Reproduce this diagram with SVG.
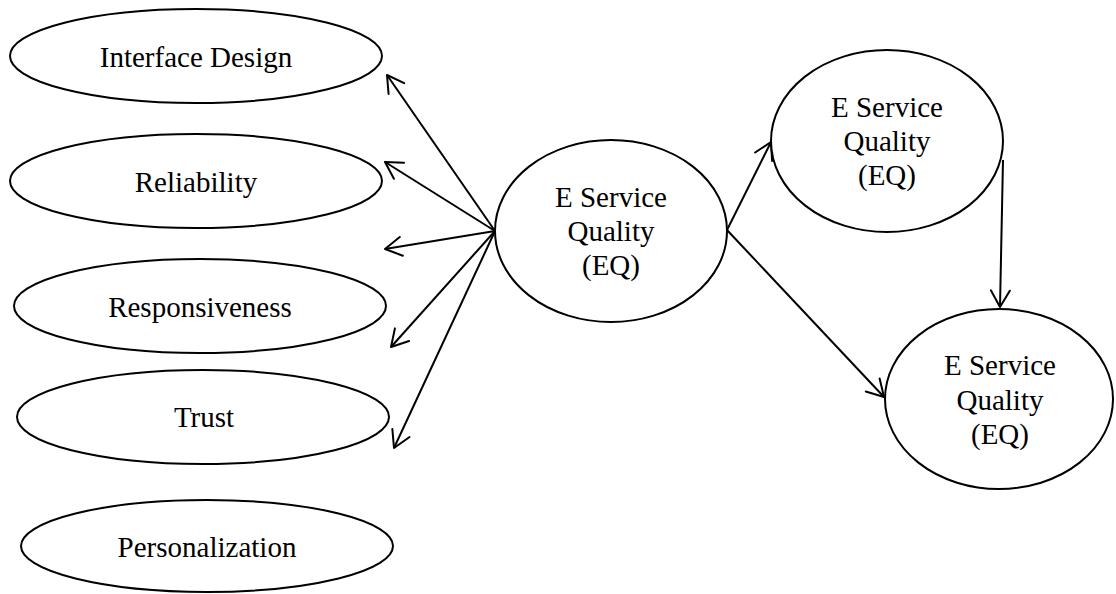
<svg xmlns="http://www.w3.org/2000/svg" width="1116" height="594" viewBox="0 0 1116 594">
  <style>
    .shape { fill: #ffffff; stroke: #000000; stroke-width: 2; }
    .label { font-family: "Liberation Serif", "Times New Roman", serif; font-size: 29px; fill: #000000; text-anchor: middle; }
    .link { fill: none; stroke: #000000; stroke-width: 2; marker-end: url(#head); }
  </style>
  <defs>
    <!-- open V-shaped arrowhead -->
    <marker id="head" markerUnits="userSpaceOnUse" markerWidth="40" markerHeight="40" refX="0" refY="0" orient="auto" viewBox="-20 -20 40 40" overflow="visible">
      <path d="M -16.5 -9.5 L 0 0 L -16.5 9.5" fill="none" stroke="#000000" stroke-width="2" stroke-linecap="round" stroke-linejoin="round"/>
    </marker>
  </defs>

  <rect x="0" y="0" width="1116" height="594" fill="#ffffff"/>

  <!-- connectors -->
  <g id="connectors">
    <line class="link" x1="495" y1="231" x2="387" y2="75"/>
    <line class="link" x1="495" y1="231" x2="385" y2="162"/>
    <line class="link" x1="495" y1="231" x2="385" y2="249"/>
    <line class="link" x1="495" y1="231" x2="391" y2="347"/>
    <line class="link" x1="495" y1="231" x2="394" y2="448"/>
    <line class="link" x1="727" y1="230" x2="771" y2="142"/>
    <line class="link" x1="727" y1="230" x2="884" y2="397"/>
    <line class="link" x1="1003" y1="160" x2="1000" y2="307"/>
  </g>

  <!-- left-hand dimensions -->
  <g id="interface-design">
    <ellipse class="shape" cx="196" cy="56" rx="186" ry="47"/>
    <text class="label" x="196" y="67">Interface Design</text>
  </g>
  <g id="reliability">
    <ellipse class="shape" cx="196" cy="181" rx="186" ry="47"/>
    <text class="label" x="196" y="192">Reliability</text>
  </g>
  <g id="responsiveness">
    <ellipse class="shape" cx="200" cy="306" rx="186" ry="47"/>
    <text class="label" x="200" y="317">Responsiveness</text>
  </g>
  <g id="trust">
    <ellipse class="shape" cx="203" cy="417" rx="186" ry="47"/>
    <text class="label" x="204" y="427">Trust</text>
  </g>
  <g id="personalization">
    <ellipse class="shape" cx="207" cy="546" rx="186" ry="46"/>
    <text class="label" x="207" y="557">Personalization</text>
  </g>

  <!-- central construct -->
  <g id="eq-center">
    <ellipse class="shape" cx="611" cy="231" rx="116" ry="91"/>
    <text class="label" x="611" y="207">E Service</text>
    <text class="label" x="611" y="241">Quality</text>
    <text class="label" x="611" y="275">(EQ)</text>
  </g>

  <!-- right-hand constructs -->
  <g id="eq-top">
    <ellipse class="shape" cx="887" cy="141" rx="116" ry="91"/>
    <text class="label" x="887" y="117">E Service</text>
    <text class="label" x="887" y="151">Quality</text>
    <text class="label" x="887" y="185">(EQ)</text>
  </g>
  <g id="eq-bottom">
    <ellipse class="shape" cx="999" cy="399" rx="114" ry="90"/>
    <text class="label" x="1000" y="375">E Service</text>
    <text class="label" x="1000" y="410">Quality</text>
    <text class="label" x="1000" y="444">(EQ)</text>
  </g>
</svg>
